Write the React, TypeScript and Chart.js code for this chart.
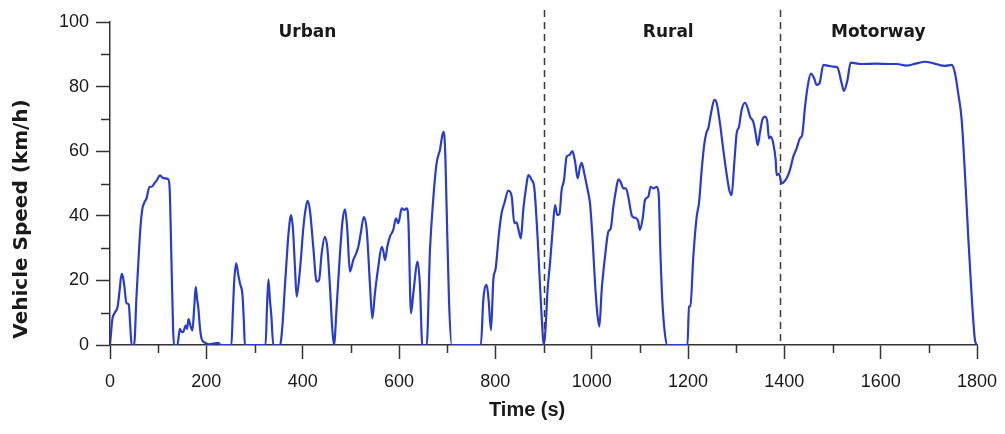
import { useEffect, useRef } from "react";
import { Chart, registerables } from "chart.js";

Chart.register(...registerables);

// Drive cycle trace: elapsed time (s) and vehicle speed (km/h)
const TIME_S = [
  0, 5, 10, 16, 20, 24, 27, 30, 34, 39, 42, 45, 50, 55, 59, 63, 67, 71, 76, 82,
  87, 92, 97, 104, 109, 114, 121, 124, 127, 131, 133, 140, 145, 149, 152, 157, 160, 163, 167, 171,
  175, 178, 181, 183, 187, 190, 197, 205, 225, 230, 252, 255, 258, 262, 266, 270, 275, 278, 280, 323,
  326, 329, 332, 335, 339, 353, 358, 363, 367, 370, 376, 380, 384, 387.5, 393, 397, 401, 406, 410, 415,
  422, 429, 434, 439.5, 446, 451, 456.7, 461, 465, 470.6, 477.5, 483, 488, 492.7, 498, 505, 510, 515.5, 521, 527,
  533, 540, 544.6, 550, 557, 564, 567.5, 571, 575.7, 581, 588, 593.8, 598.6, 605.6, 611, 616, 619.4, 625, 629.7, 638.8,
  643.6, 648.4, 657.5, 664.3, 671, 678, 685, 692, 695.5, 699, 703.8, 709.4, 770, 775, 782, 786, 791, 795.8, 800.7, 807.6,
  813, 818.7, 827, 834, 839.4, 844, 849, 853, 858, 865, 868.5, 875.4, 881, 888, 895, 901, 905, 908, 913.5, 919,
  924, 928.7, 933, 937.7, 942.5, 948, 953.6, 960, 965.5, 971, 975.8, 979.3, 984.7, 991.7, 996.5, 1002, 1007, 1011.7, 1016, 1020.8,
  1027.7, 1034.6, 1039.5, 1045, 1050.5, 1055.4, 1060, 1065.7, 1071, 1076, 1083, 1087, 1092, 1096.8, 1100, 1106, 1110.7, 1117.6, 1122.5, 1128,
  1135, 1139, 1143, 1147, 1152, 1157, 1199, 1202, 1205, 1211, 1218, 1222.8, 1228.4, 1234, 1238.8, 1242, 1247.7, 1254.6, 1259.5, 1266.4,
  1273.3, 1280, 1285.7, 1290.6, 1296, 1301, 1305.9, 1311.4, 1318.3, 1324, 1328.7, 1335.6, 1340.5, 1344.7, 1349.5, 1354.3, 1360, 1364.7, 1368, 1372,
  1377, 1382, 1384, 1389, 1394.5, 1399, 1404.8, 1411.7, 1418.6, 1425.6, 1432.5, 1437, 1443, 1448.4, 1455, 1462, 1467, 1473, 1481, 1490,
  1501.7, 1510, 1519, 1524, 1531, 1537.7, 1560, 1590, 1620, 1633, 1654, 1675, 1692, 1710, 1733.5, 1747.5, 1754.3, 1761, 1768, 1775,
  1782, 1789, 1795.8, 1800,
];

const SPEED_KMH = [
  0, 8, 10, 12, 17, 22, 21, 18, 13, 12.5, 6, 0, 0, 15, 26, 36, 42, 44, 45.5, 49,
  49, 50, 51, 52.5, 51.8, 51.6, 51.3, 48, 30, 5, 0, 0, 5, 4, 4, 6, 5, 8, 6, 4.5,
  12, 18, 14, 12, 5, 2, 0.7, 0.2, 0.7, 0, 0, 10, 20, 25.3, 22, 19, 15.5, 7, 0, 0,
  12, 20.3, 14, 9, 0, 0, 6, 18, 27, 33.5, 40.2, 35.6, 24, 15, 21.1, 28, 35.6, 42, 44.6, 41.8,
  30.4, 19.6, 20.1, 28.4, 33.5, 30.4, 18, 6, 0, 11.9, 28.4, 38.7, 42, 35.6, 22.7, 26.3, 28, 30.4, 35, 39.7,
  35.6, 18, 8.2, 16, 24.2, 30.4, 29, 26.3, 30.4, 33.5, 35.6, 39.2, 37.7, 42.3, 41.8, 42.3, 38.7, 9.8, 16, 25.8,
  18, 0, 0, 29.4, 44.9, 56.2, 60.4, 66, 61.4, 41.8, 13.9, 0, 0, 13.9, 18.6, 14, 4.6, 20.1, 23.7, 34.6,
  40.8, 43.9, 47.8, 46, 37.7, 38, 35.1, 33, 41.8, 50, 52.6, 51.1, 48.5, 32.5, 11.9, 0, 7, 16, 25.3, 35.6,
  43.3, 40.2, 40.5, 48, 51, 58.3, 58.8, 60, 56.8, 51.6, 55.2, 56.4, 53.1, 48, 43.9, 32.5, 19.1, 9.8, 5.7, 17,
  27.3, 35.1, 36, 42.8, 48, 51.3, 50.5, 48.5, 48.5, 45.9, 40.2, 39.5, 39.3, 38.2, 35.6, 39.3, 44.9, 45.9, 49, 48.5,
  49, 47, 27.3, 12.9, 3.6, 0, 0, 11.9, 12, 27.3, 39.7, 43.9, 54.2, 62.4, 66, 67, 71.7, 75.9, 74.9, 68.6,
  60.4, 53.1, 48, 46.4, 56.2, 65.5, 67.6, 72.8, 75, 73.3, 70.7, 69.1, 65.5, 61.9, 65.9, 69.7, 70.7, 69.1, 64, 64.5,
  62.4, 57.3, 52.6, 53, 50, 50.5, 51.6, 54.2, 58.3, 60.9, 64, 65, 73.8, 80, 84, 82.5, 80.5, 81, 86.7, 86.5,
  86.2, 86, 81, 78.7, 82, 87.4, 87, 87.1, 87, 87, 86.5, 87.2, 87.7, 87.2, 86.4, 86.7, 84.1, 77.9, 70, 53,
  33, 15, 1.5, 0,
];

// Phase boundaries (s) and the phase captions drawn across the top
const PHASE_BOUNDARIES_S = [902, 1392];
const PHASE_NAMES = ["Urban", "Rural", "Motorway"];
const PHASE_LABEL_T = [410, 1159, 1595];
const PHASE_LABEL_V = 96.8;

const X_MINOR_TICKS = [100, 300, 500, 700, 900, 1100, 1300, 1500, 1700];
const Y_MINOR_TICKS = [10, 30, 50, 70, 90];

// Axis titles and where they sit along their axes
const Y_TITLE = "Vehicle Speed (km/h)";
const Y_TITLE_CENTER_V = 39;
const X_TITLE = "Time (s)";
const X_TITLE_CENTER_T = 866;

const AXIS_COLOR = "#333333";
const TEXT_COLOR = "#1a1a1a";
const LINE_COLOR = "rgb(40, 60, 206)";
const FONT_FAMILY = "'Liberation Sans', Arial, sans-serif";
const WIDE_BOLD_FONT = "'DejaVu Sans', sans-serif";

const cycleDecorations = {
  id: "cycleDecorations",
  beforeDatasetsDraw(chart: any) {
    const { ctx, scales } = chart;
    const x = scales.x;
    const y = scales.y;
    ctx.save();
    ctx.strokeStyle = "#3a3a3a";
    ctx.lineWidth = 1.5;
    ctx.setLineDash([7, 5]);
    for (const t of PHASE_BOUNDARIES_S) {
      const px = Math.round(x.getPixelForValue(t)) + 0.5;
      ctx.beginPath();
      ctx.moveTo(px, y.getPixelForValue(103.7));
      ctx.lineTo(px, y.getPixelForValue(0));
      ctx.stroke();
    }
    ctx.restore();
  },
  afterDraw(chart: any) {
    const { ctx, scales } = chart;
    const x = scales.x;
    const y = scales.y;
    const x0 = x.getPixelForValue(0);
    const y0 = y.getPixelForValue(0);
    ctx.save();
    ctx.strokeStyle = AXIS_COLOR;
    ctx.lineWidth = 1.5;
    ctx.beginPath();
    for (const v of X_MINOR_TICKS) {
      const px = Math.round(x.getPixelForValue(v)) + 0.5;
      ctx.moveTo(px, y0);
      ctx.lineTo(px, y0 + 8);
    }
    for (const v of Y_MINOR_TICKS) {
      const py = Math.round(y.getPixelForValue(v)) + 0.5;
      ctx.moveTo(x0 - 9, py);
      ctx.lineTo(x0, py);
    }
    ctx.stroke();

    ctx.fillStyle = TEXT_COLOR;
    ctx.font = `bold 17px ${WIDE_BOLD_FONT}`;
    ctx.textAlign = "center";
    ctx.textBaseline = "middle";
    PHASE_NAMES.forEach((name, i) => {
      ctx.fillText(name, x.getPixelForValue(PHASE_LABEL_T[i]), y.getPixelForValue(PHASE_LABEL_V));
    });

    // x-axis title
    ctx.font = `bold 20px ${FONT_FAMILY}`;
    ctx.fillText(X_TITLE, x.getPixelForValue(X_TITLE_CENTER_T), x.bottom - 24);

    // Rotated y-axis title
    ctx.translate(y.left + 22, y.getPixelForValue(Y_TITLE_CENTER_V));
    ctx.rotate(-Math.PI / 2);
    ctx.font = `bold 20px ${WIDE_BOLD_FONT}`;
    ctx.fillText(Y_TITLE, 0, 0);
    ctx.restore();
  },
};

export default function App() {
  const canvasRef = useRef<HTMLCanvasElement | null>(null);

  useEffect(() => {
    const canvas = canvasRef.current;
    if (!canvas) return;
    const points = TIME_S.map((t, i) => ({ x: t, y: SPEED_KMH[i] }));

    const chart = new Chart(canvas, {
      type: "line",
      data: {
        datasets: [
          {
            data: points,
            borderColor: LINE_COLOR,
            borderWidth: 2.2,
            pointRadius: 0,
            fill: false,
            cubicInterpolationMode: "monotone",
          },
        ],
      },
      options: {
        responsive: false,
        animation: false,
        events: [],
        layout: { padding: { left: 0, top: 22, right: 28, bottom: 0 } },
        plugins: {
          legend: { display: false },
          tooltip: { enabled: false },
        },
        scales: {
          x: {
            type: "linear",
            min: 0,
            max: 1800,
            afterFit(scale: any) {
              scale.height = 89;
              scale.paddingLeft = 0;
              scale.paddingRight = 0;
            },
            ticks: {
              stepSize: 200,
              color: TEXT_COLOR,
              padding: 12,
              maxRotation: 0,
              font: { family: FONT_FAMILY, size: 18 },
              callback: (v: any) => String(v),
            },
            grid: {
              display: true,
              drawOnChartArea: false,
              drawTicks: true,
              tickLength: 14,
              tickColor: AXIS_COLOR,
              tickWidth: 1.5,
            },
            border: { display: true, color: AXIS_COLOR, width: 1.5 },
            title: { display: false },
          },
          y: {
            min: 0,
            max: 100,
            afterFit(scale: any) {
              scale.width = 110;
              scale.paddingTop = 0;
              scale.paddingBottom = 0;
            },
            ticks: {
              stepSize: 20,
              color: TEXT_COLOR,
              padding: 7,
              font: { family: FONT_FAMILY, size: 18 },
              callback: (v: any) => String(v),
            },
            grid: {
              display: true,
              drawOnChartArea: false,
              drawTicks: true,
              tickLength: 14,
              tickColor: AXIS_COLOR,
              tickWidth: 1.5,
            },
            border: { display: true, color: AXIS_COLOR, width: 1.5 },
            title: { display: false },
          },
        },
      },
      plugins: [cycleDecorations],
    });

    return () => chart.destroy();
  }, []);

  return (
    <div
      style={{
        position: "absolute",
        left: 0,
        top: 0,
        width: 1005,
        height: 434,
        background: "#ffffff",
      }}
    >
      <canvas ref={canvasRef} width={1005} height={434} style={{ display: "block" }} />
    </div>
  );
}
